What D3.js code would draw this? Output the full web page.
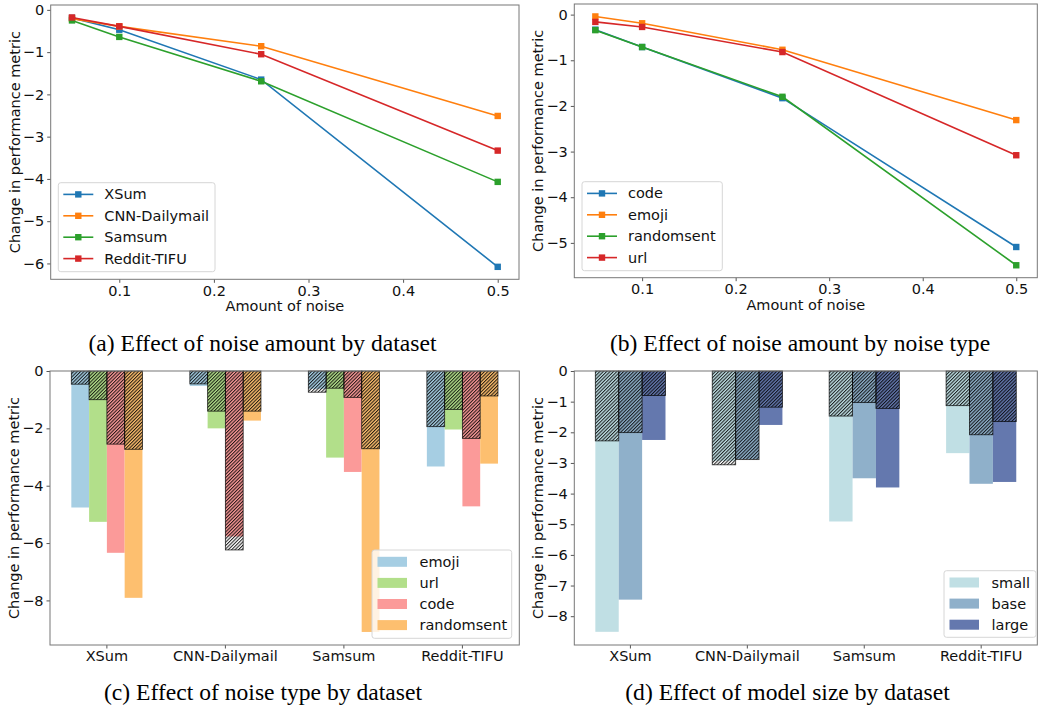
<!DOCTYPE html>
<html>
<head>
<meta charset="utf-8">
<script src="https://cdn.jsdelivr.net/npm/d3@7"></script>
<style>
  body { margin: 0; background: #fff; }
  text { font-family: "DejaVu Sans", sans-serif; }
</style>
</head>
<body>
<script>
// ---- data ----
const noiseAmounts = [0.05, 0.1, 0.25, 0.5];
const datasets = ["XSum", "CNN-Dailymail", "Samsum", "Reddit-TIFU"];

// (a) effect of noise amount, one line per dataset
const xsumByAmount = [-0.19, -0.47, -1.65, -6.08];
const cnnByAmount = [-0.21, -0.39, -0.86, -2.51];
const samsumByAmount = [-0.25, -0.64, -1.69, -4.07];
const redditByAmount = [-0.18, -0.39, -1.05, -3.33];

// (b) effect of noise amount, one line per noise type
const noiseTypesB = ["code", "emoji", "randomsent", "url"];
const codeByAmount = [-0.33, -0.71, -1.83, -5.09];
const emojiByAmount = [-0.04, -0.19, -0.77, -2.31];
const randomsentByAmount = [-0.34, -0.71, -1.80, -5.49];
const urlByAmount = [-0.16, -0.27, -0.82, -3.08];

// (c) noise type by dataset: solid bar and hatched bar per type
const noiseTypesC = ["emoji", "url", "code", "randomsent"];
const emojiSolid = [-4.76, -0.52, -0.62, -3.33];
const emojiHatched = [-0.46, -0.45, -0.74, -1.94];
const urlSolid = [-5.26, -2.00, -3.02, -2.04];
const urlHatched = [-1.00, -1.40, -0.60, -1.34];
const codeSolid = [-6.34, -5.77, -3.52, -4.72];
const codeHatched = [-2.55, -6.24, -0.92, -2.35];
const randomsentSolid = [-7.91, -1.73, -9.10, -3.23];
const randomsentHatched = [-2.73, -1.40, -2.71, -0.87];

// (d) model size by dataset
const modelSizes = ["small", "base", "large"];
const smallSolid = [-8.51, -2.93, -4.91, -2.68];
const smallHatched = [-2.28, -3.06, -1.47, -1.13];
const baseSolid = [-7.46, -2.87, -3.50, -3.68];
const baseHatched = [-2.01, -2.89, -1.03, -2.08];
const largeSolid = [-2.25, -1.76, -3.80, -3.62];
const largeHatched = [-0.80, -1.18, -1.22, -1.65];

const tab10 = ["#1f77b4", "#ff7f0e", "#2ca02c", "#d62728"];
const pairedLight = ["#a6cee3", "#b2df8a", "#fb9a99", "#fdbf6f"];
const sizeColors = ["#c0dfe4", "#8fb0ca", "#6478ae"];

const FS = 14.5;
const fmtY = d3.format("d");

const svg = d3.select("body").append("svg")
    .attr("width", 1038)
    .attr("height", 706);

const defs = svg.append("defs");
const hatch = defs.append("pattern")
    .attr("id", "hatch")
    .attr("patternUnits", "userSpaceOnUse")
    .attr("width", 2.4)
    .attr("height", 2.4)
    .attr("patternTransform", "rotate(45)");
hatch.append("line")
    .attr("x1", 0.5).attr("y1", 0).attr("x2", 0.5).attr("y2", 2.4)
    .attr("stroke", "#000").attr("stroke-width", 1.1).attr("stroke-opacity", 0.85);

// y axis + y label, shared by all four panels
function frame(g, box, y, yTicks) {
    const yAxis = g.append("g")
        .attr("transform", `translate(${box.x0},0)`)
        .call(d3.axisLeft(y).tickValues(yTicks).tickFormat(fmtY).tickSize(3.5).tickPadding(3));
    yAxis.select(".domain").remove();
    yAxis.selectAll("line").attr("stroke", "#555");
    yAxis.selectAll("text").attr("font-size", FS).attr("fill", "#111")
        .attr("font-family", "DejaVu Sans, sans-serif");

    g.append("text")
        .attr("transform", `translate(${box.x0 - 31},${(box.y0 + box.y1) / 2}) rotate(-90)`)
        .attr("text-anchor", "middle")
        .attr("font-size", FS)
        .attr("fill", "#111")
        .text("Change in performance metric");
}

function spines(g, box) {
    g.append("rect")
        .attr("x", box.x0).attr("y", box.y0)
        .attr("width", box.x1 - box.x0).attr("height", box.y1 - box.y0)
        .attr("fill", "none").attr("stroke", "#777").attr("stroke-width", 1);
}

function legendFrame(g, lb) {
    g.append("rect")
        .attr("x", lb.x).attr("y", lb.y).attr("width", lb.w).attr("height", lb.h)
        .attr("rx", 2.5)
        .attr("fill", "#fff").attr("fill-opacity", 0.8)
        .attr("stroke", "#d6d6d6").attr("stroke-width", 1);
}

function linePanel(box, yDomain, yTicks, names, series, lb) {
    const g = svg.append("g");
    const x = d3.scaleLinear().domain([0.0275, 0.5225]).range([box.x0, box.x1]);
    const y = d3.scaleLinear().domain(yDomain).range([box.y1, box.y0]);

    frame(g, box, y, yTicks);

    const xAxis = g.append("g")
        .attr("transform", `translate(0,${box.y1})`)
        .call(d3.axisBottom(x).tickValues([0.1, 0.2, 0.3, 0.4, 0.5])
            .tickFormat(d3.format(".1f")).tickSize(3.5).tickPadding(2.5));
    xAxis.select(".domain").remove();
    xAxis.selectAll("line").attr("stroke", "#555");
    xAxis.selectAll("text").attr("font-size", FS).attr("fill", "#111")
        .attr("font-family", "DejaVu Sans, sans-serif");

    g.append("text")
        .attr("x", (box.x0 + box.x1) / 2)
        .attr("y", box.y1 + 32)
        .attr("text-anchor", "middle")
        .attr("font-size", FS)
        .attr("fill", "#111")
        .text("Amount of noise");

    const line = d3.line()
        .x((d, i) => x(noiseAmounts[i]))
        .y(d => y(d));

    series.forEach((vals, k) => {
        g.append("path")
            .attr("d", line(vals))
            .attr("fill", "none")
            .attr("stroke", tab10[k])
            .attr("stroke-width", 1.6);
        g.append("g").selectAll("rect")
            .data(vals)
            .enter()
            .append("rect")
            .attr("x", (d, i) => x(noiseAmounts[i]) - 3.2)
            .attr("y", d => y(d) - 3.2)
            .attr("width", 6.4)
            .attr("height", 6.4)
            .attr("fill", tab10[k]);
    });

    spines(g, box);

    // legend
    legendFrame(g, lb);
    names.forEach((n, k) => {
        const cy = lb.y + 11.7 + k * 21.4;
        g.append("line")
            .attr("x1", lb.x + 5).attr("x2", lb.x + 35)
            .attr("y1", cy).attr("y2", cy)
            .attr("stroke", tab10[k]).attr("stroke-width", 1.6);
        g.append("rect")
            .attr("x", lb.x + 20 - 3.2).attr("y", cy - 3.2)
            .attr("width", 6.4).attr("height", 6.4)
            .attr("fill", tab10[k]);
        g.append("text")
            .attr("x", lb.x + 46).attr("y", cy)
            .attr("dy", "0.35em")
            .attr("font-size", FS)
            .attr("fill", "#111")
            .text(n);
    });
}

function barPanel(box, yDomain, yTicks, groups, solids, hatcheds, colors, lb) {
    const g = svg.append("g");
    const x = d3.scaleBand().domain(datasets).range([box.x0, box.x1])
        .paddingInner(0.4).paddingOuter(0.18);
    const xi = d3.scaleBand().domain(groups).range([0, x.bandwidth()]);
    const y = d3.scaleLinear().domain(yDomain).range([box.y1, box.y0]);

    frame(g, box, y, yTicks);

    const xAxis = g.append("g")
        .attr("transform", `translate(0,${box.y1})`)
        .call(d3.axisBottom(x).tickSize(3.5).tickPadding(2.5));
    xAxis.select(".domain").remove();
    xAxis.selectAll("line").attr("stroke", "#555");
    xAxis.selectAll("text").attr("font-size", FS).attr("fill", "#111")
        .attr("font-family", "DejaVu Sans, sans-serif");

    // full-noise bars first, hatched bars over them
    groups.forEach((grp, k) => {
        g.append("g").selectAll("rect")
            .data(solids[k])
            .enter()
            .append("rect")
            .attr("x", (d, i) => x(datasets[i]) + xi(grp))
            .attr("y", y(0))
            .attr("width", xi.bandwidth())
            .attr("height", d => y(d) - y(0))
            .attr("fill", colors[k]);
    });
    groups.forEach((grp, k) => {
        g.append("g").selectAll("rect")
            .data(hatcheds[k])
            .enter()
            .append("rect")
            .attr("x", (d, i) => x(datasets[i]) + xi(grp))
            .attr("y", y(0))
            .attr("width", xi.bandwidth())
            .attr("height", d => y(d) - y(0))
            .attr("fill", "url(#hatch)")
            .attr("stroke", "#000")
            .attr("stroke-opacity", 0.75)
            .attr("stroke-width", 0.9);
    });

    spines(g, box);

    legendFrame(g, lb);
    groups.forEach((n, k) => {
        const cy = lb.y + 11.8 + k * 21.1;
        g.append("rect")
            .attr("x", lb.x + 5.5).attr("y", cy - 5)
            .attr("width", 29.5).attr("height", 10)
            .attr("fill", colors[k]);
        g.append("text")
            .attr("x", lb.x + 47.5).attr("y", cy)
            .attr("dy", "0.35em")
            .attr("font-size", FS)
            .attr("fill", "#111")
            .text(n);
    });
}

linePanel({ x0: 50.7, x1: 519, y0: 5, y1: 279.3 },
    [-6.375, 0.115], [0, -1, -2, -3, -4, -5, -6],
    datasets, [xsumByAmount, cnnByAmount, samsumByAmount, redditByAmount],
    { x: 58.3, y: 182.7, w: 156.7, h: 89 });

linePanel({ x0: 574.3, x1: 1037.3, y0: 4, y1: 277.7 },
    [-5.7625, 0.2325], [0, -1, -2, -3, -4, -5],
    noiseTypesB, [codeByAmount, emojiByAmount, randomsentByAmount, urlByAmount],
    { x: 582, y: 181.7, w: 140.3, h: 89 });

barPanel({ x0: 50, x1: 519.3, y0: 371, y1: 645 },
    [-9.555, 0], [0, -2, -4, -6, -8], noiseTypesC,
    [emojiSolid, urlSolid, codeSolid, randomsentSolid],
    [emojiHatched, urlHatched, codeHatched, randomsentHatched],
    pairedLight,
    { x: 372, y: 550, w: 139.7, h: 88.3 });

barPanel({ x0: 574.3, x1: 1037.3, y0: 371, y1: 645 },
    [-8.94, 0], [0, -1, -2, -3, -4, -5, -6, -7, -8], modelSizes,
    [smallSolid, baseSolid, largeSolid],
    [smallHatched, baseHatched, largeHatched],
    sizeColors,
    { x: 944, y: 570.7, w: 92, h: 66.6 });

// sub-figure captions
const captions = [
    { t: "(a) Effect of noise amount by dataset", x: 262.5, y: 351 },
    { t: "(b) Effect of noise amount by noise type", x: 800, y: 351 },
    { t: "(c) Effect of noise type by dataset", x: 263, y: 699.5 },
    { t: "(d) Effect of model size by dataset", x: 787.5, y: 700 }
];
svg.append("g").selectAll("text")
    .data(captions)
    .enter()
    .append("text")
    .attr("x", d => d.x)
    .attr("y", d => d.y)
    .attr("text-anchor", "middle")
    .style("font-family", "'Liberation Serif', serif")
    .attr("font-size", 23.6)
    .attr("fill", "#000")
    .text(d => d.t);
</script>
</body>
</html>
